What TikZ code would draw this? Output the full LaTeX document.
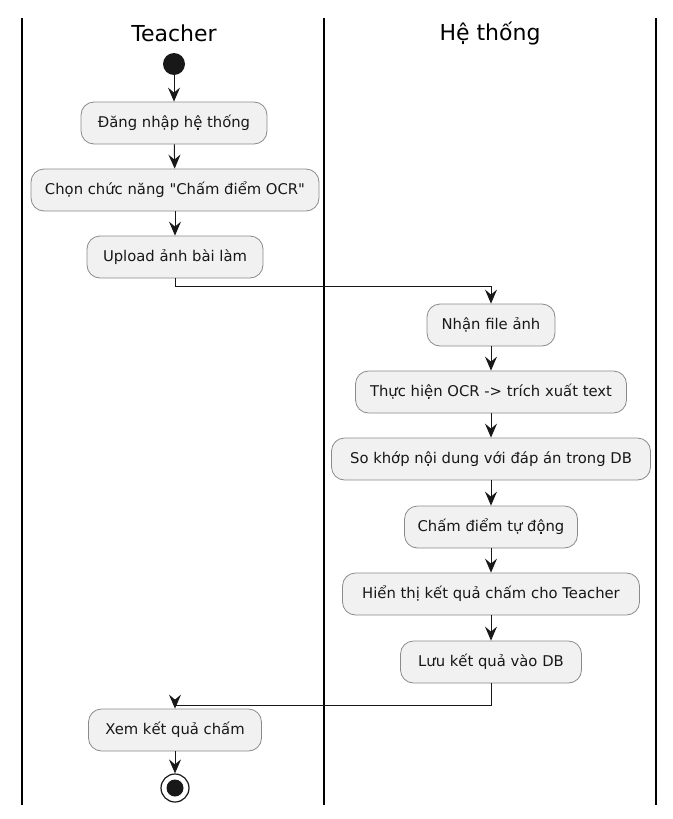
\documentclass[tikz,border=0pt]{standalone}
\usepackage{fontspec}
\setmainfont{DejaVu Sans}[Ligatures=TeXOff]
\usetikzlibrary{arrows.meta}
\definecolor{boxfill}{HTML}{F1F1F1}
\definecolor{boxline}{HTML}{8A8A8A}
\definecolor{ink}{HTML}{181818}
\tikzset{
  act/.style={draw=boxline, fill=boxfill, line width=0.8pt, rounded corners=13pt,
    minimum height=42pt, inner sep=0pt, font=\fontsize{14.8}{17}\selectfont, text=ink},
  lane/.style={draw=black, line width=1.5pt},
  title/.style={font=\fontsize{22}{24}\selectfont, text=black},
  flow/.style={draw=ink, line width=1pt, -{Stealth[length=14pt, width=12pt, inset=5pt]}},
}
\begin{document}
\begin{tikzpicture}[x=1pt,y=-1pt]
\useasboundingbox (0,0) rectangle (672,819);
% lanes
\coordinate (l1t) at (22,18); \coordinate (l1b) at (22,805);
\coordinate (l2t) at (324,18); \coordinate (l2b) at (324,805);
\coordinate (l3t) at (656,18); \coordinate (l3b) at (656,805);
\draw[lane] (l1t) -- (l1b);
\draw[lane] (l2t) -- (l2b);
\draw[lane] (l3t) -- (l3b);
\node[title] (t1) at (174,33) {Teacher};
\node[title] (t2) at (490,33) {Hệ thống};
% start
\node[circle, fill=ink, minimum size=22pt, inner sep=0pt] (start) at (174,64) {};
\node[act, minimum width=186pt] (n1) at (174,123) {Đăng nhập hệ thống};
\node[act, minimum width=288pt] (n2) at (175,190) {Chọn chức năng "Chấm điểm OCR"};
\node[act, minimum width=176pt] (n3) at (175,257) {Upload ảnh bài làm};
\node[act, minimum width=128pt] (n4) at (491,325) {Nhận file ảnh};
\node[act, minimum width=271pt] (n5) at (491,392) {Thực hiện OCR -> trích xuất text};
\node[act, minimum width=319pt] (n6) at (491,459) {So khớp nội dung với đáp án trong DB};
\node[act, minimum width=173pt] (n7) at (491,527) {Chấm điểm tự động};
\node[act, minimum width=297pt] (n8) at (491,594) {Hiển thị kết quả chấm cho Teacher};
\node[act, minimum width=181pt] (n9) at (491,662) {Lưu kết quả vào DB};
\node[act, minimum width=173pt] (n10) at (175,730) {Xem kết quả chấm};
\node[circle, draw=ink, line width=1.2pt, fill=white, minimum size=28pt, inner sep=0pt] (end) at (175,788) {};
\node[circle, fill=ink, minimum size=17pt, inner sep=0pt] (endin) at (end.center) {};
% flows
\draw[flow] (start) -- (n1);
\draw[flow] (n1) -- (n2);
\draw[flow] (n2) -- (n3);
\coordinate (c1) at (175,286);
\coordinate (c2) at (491,286);
\draw[flow] (n3.south) -- (c1) -- (c2) -- (n4.north);
\draw[flow] (n4) -- (n5);
\draw[flow] (n5) -- (n6);
\draw[flow] (n6) -- (n7);
\draw[flow] (n7) -- (n8);
\draw[flow] (n8) -- (n9);
\coordinate (c3) at (491,705);
\coordinate (c4) at (175,705);
\draw[flow] (n9.south) -- (c3) -- (c4) -- (n10.north);
\draw[flow] (n10) -- (end);
\end{tikzpicture}
\end{document}
